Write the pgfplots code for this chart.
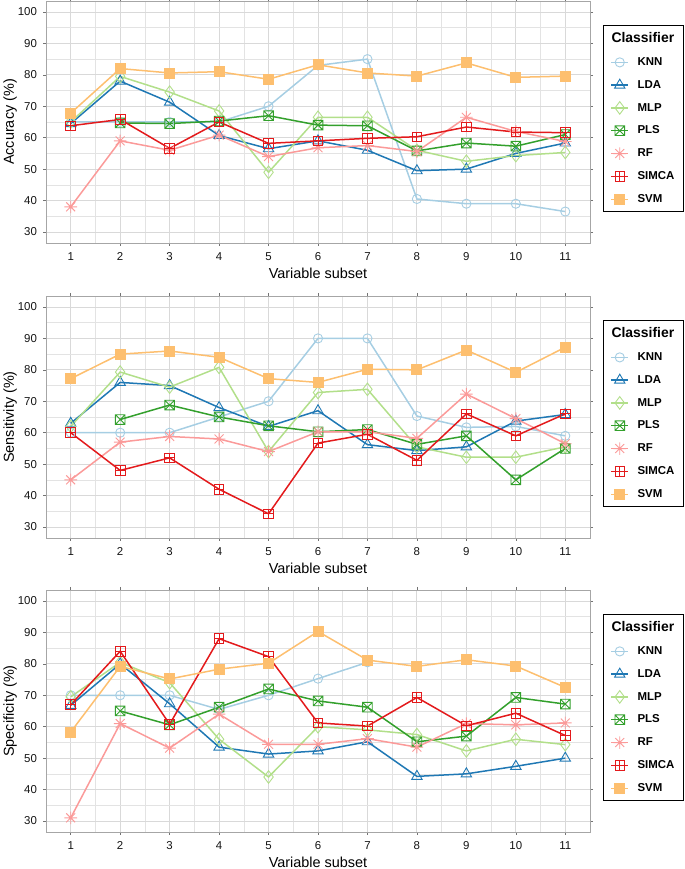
\documentclass[border=0pt]{standalone}
\usepackage{pgfplots}
\pgfplotsset{compat=1.18}
\usepackage{fontspec}
\setmainfont{Liberation Sans}
\usetikzlibrary{plotmarks}

\definecolor{cKNN}{HTML}{A6CEE3}
\definecolor{cLDA}{HTML}{1F78B4}
\definecolor{cMLP}{HTML}{B2DF8A}
\definecolor{cPLS}{HTML}{33A02C}
\definecolor{cRF}{HTML}{FB9A99}
\definecolor{cSIMCA}{HTML}{E31A1C}
\definecolor{cSVM}{HTML}{FDBF6F}

\pgfdeclareplotmark{boxx}{%
  \pgfpathrectangle{\pgfpoint{-\pgfplotmarksize}{-\pgfplotmarksize}}{\pgfpoint{2\pgfplotmarksize}{2\pgfplotmarksize}}%
  \pgfpathmoveto{\pgfpoint{-\pgfplotmarksize}{-\pgfplotmarksize}}\pgfpathlineto{\pgfpoint{\pgfplotmarksize}{\pgfplotmarksize}}%
  \pgfpathmoveto{\pgfpoint{-\pgfplotmarksize}{\pgfplotmarksize}}\pgfpathlineto{\pgfpoint{\pgfplotmarksize}{-\pgfplotmarksize}}%
  \pgfusepathqstroke}
\pgfdeclareplotmark{boxplus}{%
  \pgfpathrectangle{\pgfpoint{-\pgfplotmarksize}{-\pgfplotmarksize}}{\pgfpoint{2\pgfplotmarksize}{2\pgfplotmarksize}}%
  \pgfpathmoveto{\pgfpoint{0pt}{-\pgfplotmarksize}}\pgfpathlineto{\pgfpoint{0pt}{\pgfplotmarksize}}%
  \pgfpathmoveto{\pgfpoint{-\pgfplotmarksize}{0pt}}\pgfpathlineto{\pgfpoint{\pgfplotmarksize}{0pt}}%
  \pgfusepathqstroke}
\pgfdeclareplotmark{asteight}{%
  \pgfpathmoveto{\pgfpoint{0pt}{-\pgfplotmarksize}}\pgfpathlineto{\pgfpoint{0pt}{\pgfplotmarksize}}%
  \pgfpathmoveto{\pgfpoint{-\pgfplotmarksize}{0pt}}\pgfpathlineto{\pgfpoint{\pgfplotmarksize}{0pt}}%
  \pgfpathmoveto{\pgfpoint{-0.707\pgfplotmarksize}{-0.707\pgfplotmarksize}}\pgfpathlineto{\pgfpoint{0.707\pgfplotmarksize}{0.707\pgfplotmarksize}}%
  \pgfpathmoveto{\pgfpoint{-0.707\pgfplotmarksize}{0.707\pgfplotmarksize}}\pgfpathlineto{\pgfpoint{0.707\pgfplotmarksize}{-0.707\pgfplotmarksize}}%
  \pgfusepathqstroke}

\pgfplotsset{
  panel/.style={
    scale only axis, width=544bp, height=242bp,
    xmin=0.5, xmax=11.5, ymin=26.5, ymax=103.5,
    xtick={1,2,...,11}, ytick={30,40,...,100},
    minor xtick={1.5,2.5,...,10.5}, minor ytick={35,45,...,95},
    grid=both,
    major grid style={black!15, line width=0.9bp},
    minor grid style={black!11, line width=0.5bp},
    tick align=outside, major tick length=3bp, minor tick length=0pt,
    major tick style={black!55, line width=0.6bp},
    axis line style={black!35, line width=0.9bp},
    ticklabel style={font=\fontsize{11.5}{13}\selectfont, text=black!92},
    xticklabel style={yshift=-3bp},
    yticklabel style={xshift=-2.5bp},
    /pgf/number format/assume math mode=true,
    xlabel={Variable subset},
    every axis x label/.style={at={(axis description cs:0.5,-0.124)}, anchor=center, font=\fontsize{14.5}{16}\selectfont},
    every axis y label/.style={at={(axis description cs:-0.066,0.5)}, rotate=90, anchor=center, font=\fontsize{14.5}{16}\selectfont},
    legend style={at={(axis description cs:1.024,0.515)}, anchor=west, draw=black, line width=0.9bp,
      font=\bfseries\fontsize{11.5}{13}\selectfont, row sep=9.4bp, inner xsep=7bp, inner ysep=5bp,
      /tikz/every odd column/.append style={column sep=6.5bp}},
    legend cell align=left,
    every axis plot/.append style={line width=1.5bp, mark options={solid, line width=0.9bp}},
  },
  knn/.style={color=cKNN, mark=o, mark size=4.6bp},
  lda/.style={color=cLDA, mark=triangle, mark size=6bp},
  mlp/.style={color=cMLP, mark=diamond, mark size=6.3bp},
  pls/.style={color=cPLS, mark=boxx, mark size=4.8bp},
  rf/.style={color=cRF, mark=asteight, mark size=6.3bp},
  simca/.style={color=cSIMCA, mark=boxplus, mark size=4.8bp},
  svm/.style={color=cSVM, mark=square*, mark size=5bp},
}
\newcommand{\legtitle}{\addlegendimage{empty legend}\addlegendentry{\hspace*{-26bp}\fontsize{14}{16}\selectfont Classifier}}

\begin{document}
\begin{tikzpicture}
\path[use as bounding box] (0,0) rectangle (685bp,869bp);

% ---------- Accuracy ----------
\begin{axis}[panel, at={(46bp,868bp)}, anchor=north west, ylabel={Accuracy (\%)}]
\legtitle
\addplot[knn] coordinates {(1,65)(2,65)(3,65)(4,65)(5,70)(6,83)(7,85)(8,40.5)(9,39)(10,39)(11,36.5)};
\addlegendentry{KNN}
\addplot[lda] coordinates {(1,64.5)(2,78)(3,71.3)(4,60.7)(5,56.5)(6,59)(7,56)(8,49.5)(9,50)(10,55)(11,58.3)};
\addlegendentry{LDA}
\addplot[mlp] coordinates {(1,65)(2,79.5)(3,74.5)(4,68.5)(5,49)(6,66.5)(7,66.5)(8,56)(9,52.5)(10,54.3)(11,55.3)};
\addlegendentry{MLP}
\addplot[pls] coordinates {(2,64.7)(3,64.5)(4,65.3)(5,67)(6,64)(7,63.8)(8,55.8)(9,58.3)(10,57.3)(11,61)};
\addlegendentry{PLS}
\addplot[rf] coordinates {(1,38)(2,59)(3,56)(4,60.8)(5,54)(6,56.8)(7,57.5)(8,55.6)(9,66.5)(10,62)(11,58.8)};
\addlegendentry{RF}
\addplot[simca] coordinates {(1,63.8)(2,65.8)(3,56.6)(4,65)(5,58.2)(6,59)(7,59.8)(8,60.3)(9,63.4)(10,61.8)(11,61.6)};
\addlegendentry{SIMCA}
\addplot[svm] coordinates {(1,67.8)(2,82)(3,80.6)(4,81)(5,78.6)(6,83.2)(7,80.6)(8,79.6)(9,83.8)(10,79.2)(11,79.6)};
\addlegendentry{SVM}
\end{axis}

% ---------- Sensitivity ----------
\begin{axis}[panel, at={(46bp,573bp)}, anchor=north west, ylabel={Sensitivity (\%)}]
\legtitle
\addplot[knn] coordinates {(1,60)(2,60)(3,60)(4,65)(5,70)(6,90)(7,90)(8,65.3)(9,61.7)(10,62)(11,59)};
\addlegendentry{KNN}
\addplot[lda] coordinates {(1,63)(2,76)(3,75)(4,68)(5,62)(6,67)(7,56.2)(8,54.3)(9,55.5)(10,63.7)(11,65.8)};
\addlegendentry{LDA}
\addplot[mlp] coordinates {(1,62)(2,79.3)(3,74.5)(4,80.8)(5,54)(6,72.8)(7,73.8)(8,55.5)(9,52.2)(10,52.2)(11,55.5)};
\addlegendentry{MLP}
\addplot[pls] coordinates {(2,64.2)(3,68.8)(4,65)(5,62.2)(6,60.3)(7,61)(8,56.3)(9,59)(10,45)(11,55)};
\addlegendentry{PLS}
\addplot[rf] coordinates {(1,45)(2,57)(3,58.8)(4,58)(5,54)(6,60.3)(7,60.3)(8,58.2)(9,72.3)(10,64.5)(11,56.5)};
\addlegendentry{RF}
\addplot[simca] coordinates {(1,60)(2,48)(3,52)(4,42)(5,34.2)(6,56.7)(7,59.5)(8,51.2)(9,66)(10,59)(11,66)};
\addlegendentry{SIMCA}
\addplot[svm] coordinates {(1,77.2)(2,85)(3,86)(4,84)(5,77.2)(6,76)(7,80.2)(8,80)(9,86.3)(10,79.2)(11,87.2)};
\addlegendentry{SVM}
\end{axis}

% ---------- Specificity ----------
\begin{axis}[panel, at={(46bp,279bp)}, anchor=north west, ylabel={Specificity (\%)}]
\legtitle
\addplot[knn] coordinates {(1,70)(2,70)(3,70)(4,65.5)(5,70)(6,75.3)(7,80.5)};
\addlegendentry{KNN}
\addplot[lda] coordinates {(1,66.8)(2,80)(3,67.3)(4,53.5)(5,51.3)(6,52.3)(7,55.2)(8,44.2)(9,45)(10,47.4)(11,50)};
\addlegendentry{LDA}
\addplot[mlp] coordinates {(1,69.5)(2,80.5)(3,74)(4,56)(5,44)(6,60)(7,59)(8,57.5)(9,52.3)(10,56)(11,54.3)};
\addlegendentry{MLP}
\addplot[pls] coordinates {(2,65)(3,60.6)(4,66.2)(5,72)(6,68.2)(7,66.2)(8,55.2)(9,57)(10,69.3)(11,67.2)};
\addlegendentry{PLS}
\addplot[rf] coordinates {(1,31)(2,61)(3,53.2)(4,64)(5,54.4)(6,54.4)(7,56.2)(8,53.5)(9,61)(10,60.6)(11,61.2)};
\addlegendentry{RF}
\addplot[simca] coordinates {(1,67)(2,84)(3,60.8)(4,88)(5,82.3)(6,61.2)(7,60.2)(8,69.3)(9,60.3)(10,64.3)(11,57.2)};
\addlegendentry{SIMCA}
\addplot[svm] coordinates {(1,58.3)(2,79.2)(3,75.2)(4,78.3)(5,80.2)(6,90.3)(7,81.2)(8,79.2)(9,81.3)(10,79.3)(11,72.5)};
\addlegendentry{SVM}
\end{axis}
\end{tikzpicture}
\end{document}
